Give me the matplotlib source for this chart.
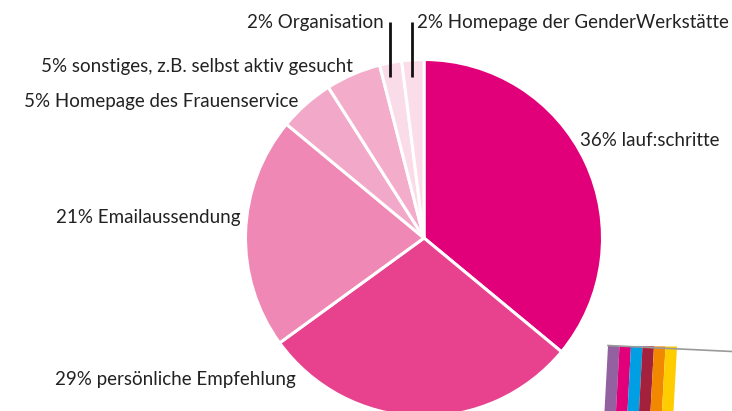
import matplotlib.pyplot as plt
from matplotlib.patches import Polygon

# ================================
# DATA
# ================================
labels = [
    "36% lauf:schritte",
    "29% persönliche Empfehlung",
    "21% Emailaussendung",
    "5% Homepage des Frauenservice",
    "5% sonstiges, z.B. selbst aktiv gesucht",
    "2% Organisation",
    "2% Homepage der GenderWerkstätte",
]
shares = [36, 29, 21, 5, 5, 2, 2]
colors = ["#E2007A", "#E8418E", "#EF88B4", "#F2A8C8", "#F3ADCB", "#FADCE9", "#FBDDEA"]

stripe_colors = ["#93619F", "#E2007A", "#009FE3", "#A3213D", "#F18800", "#FFCC00"]

# ================================
# FIGURE
# ================================
W, H = 732, 411
fig = plt.figure(figsize=(W / 100, H / 100), dpi=100)
ax = fig.add_axes([0, 0, 1, 1])

cx, cy, r = 424, H - 238, 178.5

ax.pie(
    shares,
    colors=colors,
    startangle=90,
    counterclock=False,
    center=(cx, cy),
    radius=r,
    frame=True,
    wedgeprops=dict(edgecolor="white", linewidth=2.2),
)
ax.set_xlim(0, W)
ax.set_ylim(0, H)
ax.set_aspect("equal")
ax.axis("off")

font = dict(family="Lato", fontsize=13.5, color="#222222", va="center")

# label positions in pixel space (x, y from top, alignment)
label_pos = [
    (580, 140, "left"),
    (296, 380, "right"),
    (241, 217, "right"),
    (298, 101, "right"),
    (353, 66, "right"),
    (384, 22, "right"),
    (417, 22, "left"),
]
for text, (x, y, ha) in zip(labels, label_pos):
    ax.text(x, H - y, text, ha=ha, **font)

# leader lines for the two small slices
for lx in (389.5, 412):
    ax.plot([lx, lx], [H - 22, H - 77], color="#111111", lw=2, solid_capstyle="butt")

# decorative stripe logo, bottom right
for i, c in enumerate(stripe_colors):
    x0 = 608 + i * 11.5
    top = H - 346 - i * 0.1
    poly = Polygon(
        [(x0, top), (x0 + 11.5, top), (x0 + 11.5 - 3.5, 0), (x0 - 3.5, 0)],
        closed=True, facecolor=c, edgecolor="none",
    )
    ax.add_patch(poly)
ax.plot([608, 732], [H - 345.5, H - 351.5], color="#9a9a9a", lw=1.2)

fig.savefig("out.png", dpi=100)
